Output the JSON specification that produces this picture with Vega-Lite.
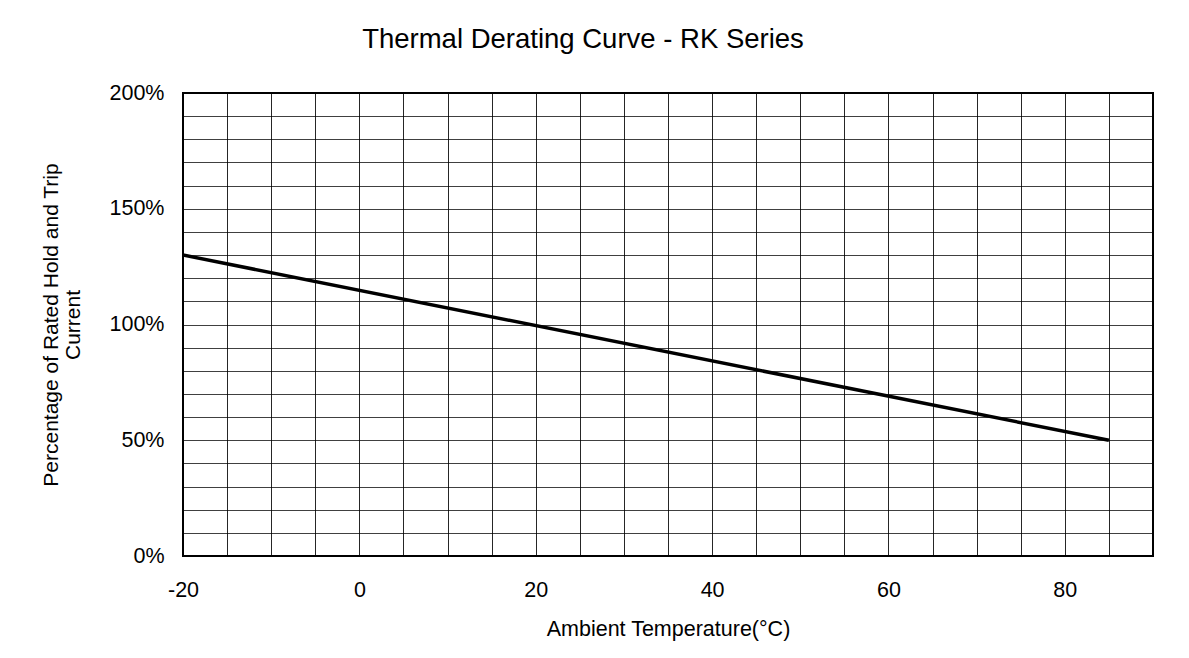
{
  "$schema": "https://vega.github.io/schema/vega-lite/v6.json",
  "width": 970,
  "height": 463,
  "autosize": {"type": "none"},
  "padding": {"left": 183, "top": 93, "right": 36, "bottom": 102},
  "background": "white",
  "title": {
    "text": "Thermal Derating Curve - RK Series",
    "font": "Liberation Sans",
    "fontSize": 27.5,
    "fontWeight": "normal",
    "color": "#000",
    "anchor": "middle",
    "frame": "group",
    "baseline": "alphabetic",
    "offset": 7,
    "dx": -85
  },
  "data": {
    "values": [
      {"temp": -20, "pct": 130},
      {"temp": 85, "pct": 50}
    ]
  },
  "mark": {"type": "line", "color": "#000", "strokeWidth": 3.5, "clip": true},
  "encoding": {
    "x": {
      "field": "temp",
      "type": "quantitative",
      "scale": {"domain": [-20, 90], "nice": false, "zero": false},
      "axis": {
        "title": "Ambient Temperature(°C)",
        "values": [-20, -15, -10, -5, 0, 5, 10, 15, 20, 25, 30, 35, 40, 45, 50, 55, 60, 65, 70, 75, 80, 85, 90],
        "labelExpr": "datum.value % 20 === 0 ? '' + datum.value : ''",
        "grid": true,
        "gridColor": "#000",
        "gridWidth": 1,
        "gridOpacity": 0.85,
        "domain": false,
        "ticks": false,
        "tickSize": 0,
        "labelPadding": 23,
        "labelFont": "Liberation Sans",
        "labelFontSize": 21.5,
        "labelColor": "#000",
        "labelFlush": false,
        "labelOverlap": false,
        "titleFont": "Liberation Sans",
        "titleFontSize": 21.5,
        "titleFontWeight": "normal",
        "titleColor": "#000",
        "titleBaseline": "top",
        "titleY": 62
      }
    },
    "y": {
      "field": "pct",
      "type": "quantitative",
      "scale": {"domain": [0, 200], "nice": false},
      "axis": {
        "title": ["Percentage of Rated Hold and Trip", "Current"],
        "values": [0, 10, 20, 30, 40, 50, 60, 70, 80, 90, 100, 110, 120, 130, 140, 150, 160, 170, 180, 190, 200],
        "labelExpr": "datum.value % 50 === 0 ? datum.value + '%' : ''",
        "grid": true,
        "gridColor": "#000",
        "gridWidth": 1,
        "gridOpacity": 0.75,
        "domain": false,
        "ticks": false,
        "tickSize": 0,
        "labelPadding": 19,
        "labelFont": "Liberation Sans",
        "labelFontSize": 21.5,
        "labelColor": "#000",
        "labelFlush": false,
        "labelOverlap": false,
        "titleFont": "Liberation Sans",
        "titleFontSize": 21,
        "titleFontWeight": "normal",
        "titleColor": "#000",
        "titleAngle": -90,
        "titleAlign": "center",
        "titleBaseline": "top",
        "titleLineHeight": 22,
        "titleX": -142.5,
        "titleY": 231.5
      }
    }
  },
  "config": {
    "view": {"stroke": "#000", "strokeWidth": 2}
  }
}
